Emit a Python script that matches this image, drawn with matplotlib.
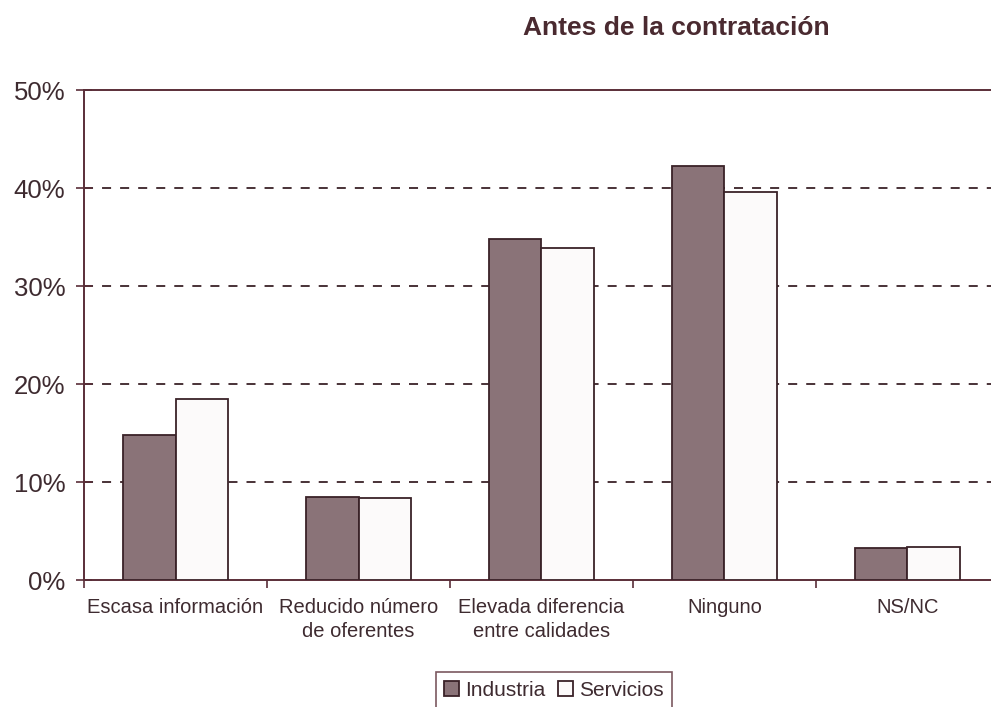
import matplotlib
matplotlib.use("Agg")
import matplotlib.pyplot as plt
import numpy as np

categories = ["Escasa información", "Reducido número\nde oferentes",
              "Elevada diferencia\nentre calidades", "Ninguno", "NS/NC"]
industria = [14.8, 8.5, 34.8, 42.2, 3.3]
servicios = [18.5, 8.4, 33.9, 39.6, 3.4]
yticks = [0, 10, 20, 30, 40, 50]

plt.rcParams['font.family'] = ['Liberation Sans', 'DejaVu Sans']
axis_col = "#5a2e38"
text_col = "#3e2b30"
ind_col = "#8a7378"
ser_col = "#fcfafa"

fig = plt.figure(figsize=(9.91, 7.07), dpi=100)
ax = fig.add_axes([0.0848, 0.1796, 0.9232, 0.6931])

x = np.arange(len(categories))
w = 0.285
ax.bar(x - w/2, industria, w, color=ind_col, edgecolor="#3a2228", linewidth=1.3,
       label="Industria", zorder=3)
ax.bar(x + w/2, servicios, w, color=ser_col, edgecolor="#3a2228", linewidth=1.3,
       label="Servicios", zorder=3)

ax.set_xlim(-0.5, len(categories) - 0.5)
ax.set_ylim(0, 50)
ax.set_yticks(yticks)
ax.set_yticklabels([f"{v}%" for v in yticks], fontsize=18.5, color=text_col)
for v in yticks[1:-1]:
    ax.axhline(v, color="#3a2228", linestyle=(0, (5, 5)), linewidth=1.3, zorder=1)

ax.set_xticks(np.arange(len(categories) + 1) - 0.5, minor=True)
ax.set_xticks(x)
ax.set_xticklabels(categories, fontsize=14.5, color=text_col, linespacing=1.32)
ax.tick_params(axis='x', which='major', length=0, pad=13)
ax.tick_params(axis='x', which='minor', length=6, direction='out', color=axis_col, width=1.2)
ax.tick_params(axis='y', length=11, direction='inout', color=axis_col, width=1.2, pad=8)

for side in ("left", "bottom", "top"):
    ax.spines[side].set_color(axis_col)
    ax.spines[side].set_linewidth(1.4)
ax.spines["right"].set_visible(False)

fig.text(0.682, 0.961, "Antes de la contratación", ha="center", va="center",
         fontsize=19, fontweight="bold", color="#4a2a30")

leg = fig.legend(loc="center", bbox_to_anchor=(0.559, 0.024), ncol=2, fontsize=15,
                 frameon=True, fancybox=False, handlelength=0.7, handleheight=0.7,
                 handletextpad=0.3, columnspacing=0.6, borderpad=0.4,
                 labelcolor=text_col)
leg.get_frame().set_edgecolor(axis_col)
leg.get_frame().set_linewidth(1.2)

fig.savefig("out.png", dpi=100)
